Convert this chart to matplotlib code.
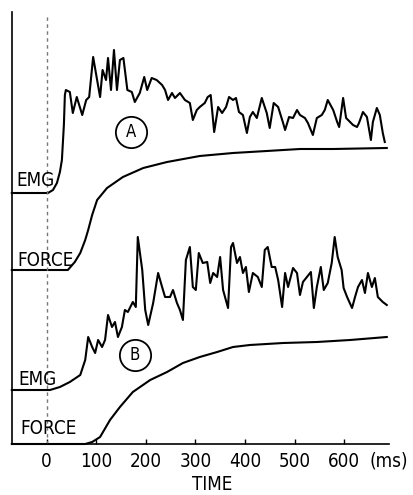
import matplotlib
matplotlib.use("Agg")
import matplotlib.pyplot as plt
from matplotlib import font_manager

# ---------------- data (time in ms, amplitude in arbitrary units) -------------
emg_a_t = [-70, 3, 13, 21, 27, 31, 35, 37, 39, 47, 53, 61, 72, 80, 86, 94, 102, 108, 113, 120,
           124, 130, 136, 142, 148, 155, 163, 172, 178, 188, 197, 203, 212, 222, 233, 239, 245,
           253, 259, 269, 279, 289, 295, 303, 309, 319, 325, 331, 338, 346, 354, 362, 368, 376,
           382, 388, 396, 404, 410, 416, 424, 434, 444, 450, 458, 467, 477, 481, 489, 497, 505,
           511, 521, 527, 537, 545, 555, 561, 567, 578, 586, 590, 598, 604, 612, 618, 626, 630,
           638, 646, 654, 658, 666, 672, 678, 682]
emg_a_v = [0, 0, 3, 10, 21, 33, 68, 98, 103, 101, 80, 96, 78, 93, 96, 136, 113, 96, 123, 113,
           135, 103, 143, 103, 133, 135, 103, 101, 91, 100, 116, 103, 115, 113, 108, 103, 93,
           100, 95, 100, 93, 90, 73, 83, 86, 90, 96, 98, 61, 86, 80, 86, 96, 93,
           95, 81, 78, 60, 76, 81, 75, 95, 80, 65, 90, 86, 70, 63, 76, 75, 83,
           78, 75, 70, 58, 75, 78, 83, 93, 83, 71, 66, 95, 75, 71, 68, 66, 70,
           81, 76, 53, 71, 85, 78, 60, 51]

force_a_t = [-70, 43, 57, 68, 78, 84, 92, 102, 122, 154, 195, 243, 309, 376, 444, 511, 578, 686]
force_a_v = [0, 0, 8, 17, 30, 40, 55, 70, 82, 93, 102, 108, 114, 117, 119, 121, 121, 122]

emg_b_t = [-70, 7, 27, 47, 68, 78, 84, 92, 98, 104, 112, 118, 124, 132, 138, 144, 152, 158, 164, 174,
           180, 184, 193, 199, 205, 215, 225, 233, 239, 249, 255, 263, 269, 275, 281, 289, 295, 301,
           307, 315, 324, 330, 336, 344, 350, 356, 366, 372, 376, 384, 390, 396, 402, 408, 416, 426,
           434, 440, 446, 454, 461, 467, 475, 481, 487, 497, 505, 511, 517, 525, 533, 539, 545, 553,
           559, 567, 575, 581, 587, 595, 599, 606, 616, 622, 628, 636, 642, 648, 656, 662, 668, 678,
           686]
emg_b_v = [0, 0, 3, 8, 15, 30, 53, 43, 37, 50, 43, 50, 75, 63, 68, 53, 63, 80, 78, 88,
           83, 153, 120, 80, 65, 87, 117, 103, 93, 93, 100, 87, 80, 70, 130, 143, 103, 100,
           137, 127, 128, 107, 117, 113, 133, 100, 82, 143, 147, 127, 133, 117, 123, 98, 117, 113,
           103, 140, 143, 123, 123, 110, 83, 117, 103, 122, 117, 95, 108, 113, 118, 82, 103, 123,
           100, 107, 127, 153, 133, 120, 102, 93, 82, 93, 103, 110, 97, 117, 103, 112, 93, 88,
           85]

force_b_t = [-70, 78, 92, 108, 128, 148, 174, 209, 243, 275, 309, 344, 376, 410, 477, 545, 612, 686]
force_b_v = [0, 0, 2, 7, 24, 37, 52, 64, 72, 81, 87, 92, 97, 99, 101, 102, 104, 107]

tick_values = [0, 100, 200, 300, 400, 500, 600]
tick_labels = ["0", "100", "200", "300", "400", "500", "600"]

# ---------------- font: prefer a narrow / condensed sans if one is installed ----
def pick_font():
    ttf = font_manager.fontManager.ttflist
    cands = []
    for f in ttf:
        nm = f.name.lower()
        fn = f.fname.lower()
        narrow = ("narrow" in nm or "condensed" in nm or "condensed" in fn
                  or "narrow" in fn or str(f.stretch).lower() in ("condensed", "semi-condensed"))
        if narrow and f.style == "normal" and f.weight in (400, "normal", "regular"):
            if "extra" in fn or "ultra" in fn or "semicondensed" in fn:
                continue
            cands.append(f)
    if cands:
        cands.sort(key=lambda f: (0 if "liberation" in f.fname.lower() else 1, f.fname))
        return font_manager.FontProperties(fname=cands[0].fname), True
    return font_manager.FontProperties(family=["Liberation Sans", "DejaVu Sans"]), False

fp, is_narrow = pick_font()
fs = 13.5 if is_narrow else 11.5

W, H = 414, 495
fig = plt.figure(figsize=(W / 100, H / 100), dpi=100)
fig.patch.set_facecolor("white")
ax = fig.add_axes([12 / W, (H - 444) / H, (389 - 12) / W, (444 - 12) / H])
ax.set_xlim(-69.6, 690.5)
ax.set_ylim(0, 432)

off_emg_a, off_force_a, off_emg_b, off_force_b = 251, 174, 54, 0

lw = 1.5
ax.plot(emg_a_t, [v + off_emg_a for v in emg_a_v], color="black", lw=lw, clip_on=False)
ax.plot(force_a_t, [v + off_force_a for v in force_a_v], color="black", lw=lw, clip_on=False)
ax.plot(emg_b_t, [v + off_emg_b for v in emg_b_v], color="black", lw=lw, clip_on=False)
ax.plot(force_b_t, [v + off_force_b for v in force_b_v], color="black", lw=lw, clip_on=False)

# dashed onset line
ax.plot([0, 0], [0, 430], color="#777777", lw=1.0, ls=(0, (2.5, 2.5)), clip_on=False)

def txt(x, y, s, **kw):
    size = kw.pop("size", fs)
    p = fp.copy()
    p.set_size(size)
    return ax.text(x, y, s, fontproperties=p, **kw)

# trace labels
txt(-61.5, 263.5, "EMG", ha="left", va="center")
txt(-59.5, 184, "FORCE", ha="left", va="center")
txt(-57.5, 64.5, "EMG", ha="left", va="center")
txt(-53.4, 15.5, "FORCE", ha="left", va="center")

# circled letters
for (cx, cy, s) in [(170, 312, "A"), (178, 89, "B")]:
    ax.plot([cx], [cy], marker="o", ms=22.5, mfc="none", mec="black", mew=1.3)
    txt(cx, cy, s, size=12, ha="center", va="center")

# axes styling
for side in ["top", "right"]:
    ax.spines[side].set_visible(False)
for side in ["left", "bottom"]:
    ax.spines[side].set_linewidth(1.2)
ax.set_yticks([])
ax.set_xticks(tick_values)
ax.set_xticklabels(tick_labels)
ax.tick_params(axis="x", direction="in", length=3.5, width=1.0, pad=6)
for lab in ax.get_xticklabels():
    p = fp.copy(); p.set_size(fs)
    lab.set_fontproperties(p)
txt(652, -17, "(ms)", ha="left", va="center", clip_on=False)
pl = fp.copy(); pl.set_size(fs)
ax.set_xlabel("TIME", fontproperties=pl)
ax.xaxis.set_label_coords((212 - 12) / 377, (444 - 475) / 432)

fig.savefig("out.png", dpi=100)
